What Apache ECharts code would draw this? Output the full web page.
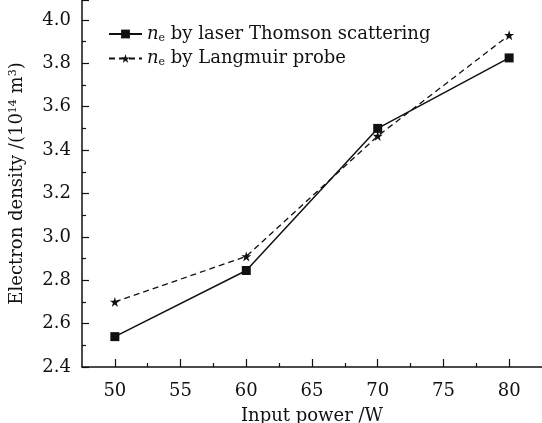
<!DOCTYPE html>
<html><head><meta charset="utf-8">
<script src="https://cdn.jsdelivr.net/npm/echarts@6/dist/echarts.min.js"></script>
<style>html,body{margin:0;padding:0;background:#fff}#c{width:542px;height:423px}</style>
</head><body><div id="c"></div>
<script>
const power = [50, 60, 70, 80];
const thomson = [2.54, 2.845, 3.50, 3.825];
const langmuir = [2.70, 2.91, 3.465, 3.93];
const xMajorTicks = [50, 55, 60, 65, 70, 75, 80];
const xMinorTicks = [52.5, 57.5, 62.5, 67.5, 72.5, 77.5];
const seriesNames = ['thomson', 'langmuir'];
const legendTexts = {thomson: ' by laser Thomson scattering', langmuir: ' by Langmuir probe'};

const FONT = 'DejaVu Serif';
const star = 'path://M50,0 L61.8,36.2 L100,36.2 L69.1,58.8 L80.9,95.1 L50,72.4 L19.1,95.1 L30.9,58.8 L0,36.2 L38.2,36.2 Z';
const chart = echarts.init(document.getElementById('c'));
const rich = {
  i: {fontFamily: FONT, fontStyle: 'italic', fontSize: 18, color: '#111'},
  s: {fontFamily: FONT, fontSize: 11, color: '#111', verticalAlign: 'bottom', padding: [8, 0, 0, 0]},
  t: {fontFamily: FONT, fontSize: 18, color: '#111'}
};
chart.setOption({
  animation: false,
  grid: {left: 82, right: 0, top: 0, bottom: 56, containLabel: false, outerBoundsMode: 'none'},
  legend: {
    left: 103, top: 20, orient: 'vertical', itemGap: 6, itemWidth: 33, itemHeight: 11,
    data: seriesNames,
    lineStyle: {width: 2},
    formatter: n => '{i|n}{s|e}{t|' + legendTexts[n] + '}',
    textStyle: {rich: rich}
  },
  xAxis: [{
    type: 'value', min: 47.5, max: 82.5,
    name: 'Input power /W', nameLocation: 'middle', nameGap: 40,
    nameTextStyle: {fontFamily: FONT, fontSize: 18, color: '#111'},
    axisLine: {show: true, onZero: false, lineStyle: {color: '#111', width: 1.5}},
    axisTick: {show: true, inside: true, length: 8, customValues: xMajorTicks, lineStyle: {color: '#111', width: 1.2}},
    axisLabel: {customValues: xMajorTicks, fontFamily: FONT, fontSize: 18, color: '#111', margin: 15},
    splitLine: {show: false}
  }, {
    type: 'value', min: 47.5, max: 82.5, position: 'bottom',
    axisLine: {show: false},
    axisTick: {show: true, inside: true, length: 4, customValues: xMinorTicks, lineStyle: {color: '#111', width: 1.2}},
    axisLabel: {show: false},
    splitLine: {show: false}
  }],
  yAxis: {
    type: 'value', min: 2.4, max: 4.092, interval: 0.2,
    name: 'Electron density /(10{sup|14} m{sup|3})', nameLocation: 'middle', nameGap: 55,
    nameTextStyle: {fontFamily: FONT, fontSize: 18, color: '#111',
      rich: {sup: {fontFamily: FONT, fontSize: 11, color: '#111', verticalAlign: 'top', padding: [0, 0, 8, 0]}}},
    axisLine: {show: true, onZero: false, lineStyle: {color: '#111', width: 1.5}},
    axisTick: {show: true, inside: true, length: 7, lineStyle: {color: '#111', width: 1.2}},
    minorTick: {show: true, splitNumber: 2, length: 4, lineStyle: {color: '#111', width: 1.2}},
    axisLabel: {fontFamily: FONT, fontSize: 18, color: '#111', margin: 11, showMaxLabel: false,
      formatter: v => v.toFixed(1)},
    splitLine: {show: false}
  },
  series: [{
    name: 'thomson', type: 'line', data: power.map((p, i) => [p, thomson[i]]),
    symbol: 'rect', symbolSize: 9, itemStyle: {color: '#111'},
    lineStyle: {color: '#111', width: 1.5}
  }, {
    name: 'langmuir', type: 'line', data: power.map((p, i) => [p, langmuir[i]]),
    symbol: star, symbolSize: 10, itemStyle: {color: '#111'},
    lineStyle: {color: '#111', width: 1.3, type: [6, 4]}
  }]
});
</script></body></html>
